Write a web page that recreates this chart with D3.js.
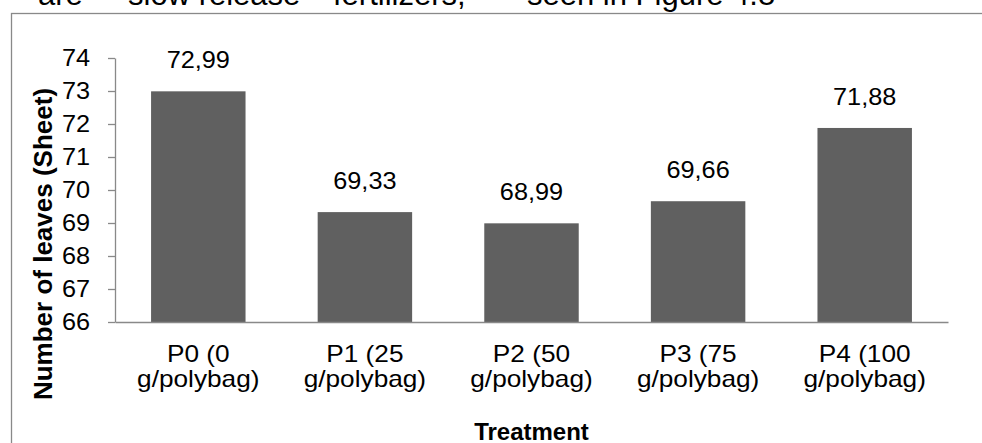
<!DOCTYPE html>
<html>
<head>
<meta charset="utf-8">
<script src="https://cdn.jsdelivr.net/npm/d3@7"></script>
<style>
  html, body { margin: 0; padding: 0; background: #fff; overflow: hidden; }
  svg { display: block; font-family: "Liberation Sans", Arial, sans-serif; }
</style>
</head>
<body>
<svg id="chart" width="982" height="443"></svg>
<script>
// Leaf counts per fertilizer treatment
const categories = [
  ["P0 (0", "g/polybag)"],
  ["P1 (25", "g/polybag)"],
  ["P2 (50", "g/polybag)"],
  ["P3 (75", "g/polybag)"],
  ["P4 (100", "g/polybag)"]
];
const values = [72.99, 69.33, 68.99, 69.66, 71.88];
const yTicks = [66, 67, 68, 69, 70, 71, 72, 73, 74];
const bodyWords = [
  { text: "are", x: 38 },
  { text: "slow release", x: 128 },
  { text: "fertilizers,", x: 333 },
  { text: "seen in Figure 4.8", x: 527 }
];

const svg = d3.select("#chart");
const axisColor = "#898989";
const barColor = "#606060";
const wide = 1.1;   // slightly widened glyphs for the chart labels

// Running text of the page above the figure
svg.append("g").selectAll("text").data(bodyWords).join("text")
  .attr("x", d => d.x).attr("y", 5)
  .attr("font-size", 31).attr("fill", "#000")
  .text(d => d.text);

// Figure frame
svg.append("rect")
  .attr("x", 11.5).attr("y", 13.5)
  .attr("width", 1000).attr("height", 500)
  .attr("fill", "none").attr("stroke", axisColor).attr("stroke-width", 1.3);

const plot = { left: 115, right: 948, top: 58, bottom: 322 };

const x = d3.scaleBand()
  .domain(d3.range(categories.length))
  .range([plot.left, plot.right])
  .paddingInner(0.433)
  .paddingOuter(0.2165);

const y = d3.scaleLinear().domain([66, 74]).range([plot.bottom, plot.top]);

// Bars
svg.append("g").selectAll("rect").data(values).join("rect")
  .attr("x", (d, i) => x(i))
  .attr("y", d => y(d))
  .attr("width", x.bandwidth())
  .attr("height", d => y(66) - y(d))
  .attr("fill", barColor);

// Value labels
const fmt = v => v.toFixed(2).replace(".", ",");
svg.append("g").selectAll("text").data(values).join("text")
  .attr("transform", `scale(${wide},1)`)
  .attr("x", (d, i) => (x(i) + x.bandwidth() / 2) / wide)
  .attr("y", d => y(d) - 23)
  .attr("text-anchor", "middle")
  .attr("font-size", 23).attr("fill", "#000")
  .text(d => fmt(d));

// Y axis
const yAxis = svg.append("g")
  .attr("transform", `translate(${plot.left},0)`)
  .call(d3.axisLeft(y).tickValues(yTicks).tickSize(7).tickPadding(18).tickSizeOuter(0));
yAxis.select(".domain").attr("stroke", axisColor).attr("stroke-width", 1.3);
yAxis.selectAll(".tick line").attr("stroke", axisColor).attr("stroke-width", 1.3);
yAxis.selectAll(".tick text")
  .attr("font-size", 23).attr("fill", "#000")
  .attr("font-family", "'Liberation Sans', Arial, sans-serif")
  .attr("transform", `scale(${wide},1)`)
  .attr("x", -25 / wide);

// X axis baseline
const xAxis = svg.append("g")
  .attr("transform", `translate(0,${plot.bottom})`)
  .call(d3.axisBottom(x).tickSize(0).tickFormat(""));
xAxis.select(".domain").attr("stroke", axisColor).attr("stroke-width", 1.3);

// Category labels on two lines
const catWide = 1.14;
const cat = svg.append("g").selectAll("text").data(categories).join("text")
  .attr("transform", `scale(${catWide},1)`)
  .attr("text-anchor", "middle")
  .attr("font-size", 23).attr("fill", "#000");
cat.selectAll("tspan").data((d, i) => d.map(t => ({ t, i }))).join("tspan")
  .attr("x", d => (x(d.i) + x.bandwidth() / 2) / catWide)
  .attr("y", (d, j) => 362 + j * 25)
  .text(d => d.t);

// Axis titles
svg.append("text")
  .attr("x", (plot.left + plot.right) / 2).attr("y", 440)
  .attr("text-anchor", "middle")
  .attr("font-size", 24).attr("font-weight", "bold")
  .text("Treatment");

svg.append("text")
  .attr("transform", "translate(52,244) rotate(-90)")
  .attr("text-anchor", "middle")
  .attr("font-size", 26).attr("font-weight", "bold")
  .text("Number of leaves (Sheet)");
</script>
</body>
</html>
